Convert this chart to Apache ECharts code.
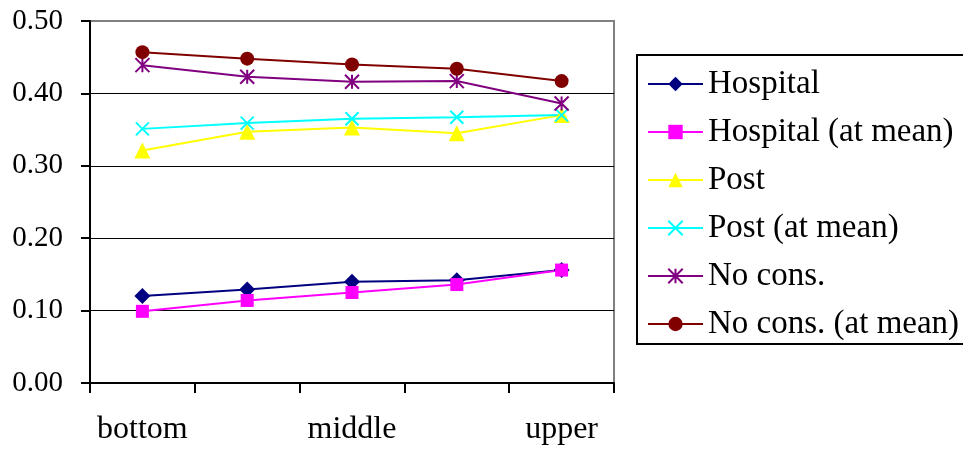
<!DOCTYPE html>
<html>
<head>
<meta charset="utf-8">
<script src="https://cdn.jsdelivr.net/npm/echarts@6/dist/echarts.min.js"></script>
<style>
html,body{margin:0;padding:0;background:#fff;}
#chart{width:963px;height:450px;}
</style>
</head>
<body>
<div id="chart"></div>
<script>
const categories = ['bottom', '', 'middle', '', 'upper'];
const yTicks = [0, 0.1, 0.2, 0.3, 0.4, 0.5];
const hospital = [0.120, 0.129, 0.140, 0.142, 0.156];
const hospitalMean = [0.099, 0.114, 0.125, 0.136, 0.156];
const post = [0.321, 0.347, 0.353, 0.345, 0.370];
const postMean = [0.351, 0.359, 0.365, 0.367, 0.370];
const noCons = [0.439, 0.423, 0.416, 0.417, 0.386];
const noConsMean = [0.457, 0.448, 0.440, 0.434, 0.417];

const FONT = '"Liberation Serif", "Times New Roman", serif';
const crossPath = 'path://M0,0L10,10M10,0L0,10';
const starPath = 'path://M0,0L10,10M10,0L0,10M5,0L5,10';

function filled(name, data, color, symbol, size) {
  return {
    name: name, type: 'line', data: data, symbol: symbol, symbolSize: size,
    lineStyle: { color: color, width: 2 },
    itemStyle: { color: color, borderColor: color, borderWidth: 0 },
    emphasis: { disabled: true }
  };
}
function stroked(name, data, color, symbol, size) {
  return {
    name: name, type: 'line', data: data, symbol: symbol, symbolSize: size,
    lineStyle: { color: color, width: 2 },
    itemStyle: { color: 'none', borderColor: color, borderWidth: 2 },
    emphasis: { disabled: true }
  };
}

const chart = echarts.init(document.getElementById('chart'), null, { renderer: 'canvas' });
chart.setOption({
  animation: false,
  backgroundColor: '#fff',
  grid: { left: 90, right: 349, top: 21, bottom: 67, show: true, borderColor: '#808080', borderWidth: 2, backgroundColor: 'transparent' },
  xAxis: {
    type: 'category', data: categories, boundaryGap: true,
    axisLine: { lineStyle: { color: '#000', width: 2 } },
    axisTick: { show: true, interval: 0, length: 10, lineStyle: { color: '#000', width: 2 } },
    axisLabel: { interval: 0, margin: 31, color: '#000', fontFamily: FONT, fontSize: 32 },
    splitLine: { show: false }
  },
  yAxis: {
    type: 'value', min: yTicks[0], max: yTicks[yTicks.length - 1], interval: 0.1,
    axisLine: { show: true, lineStyle: { color: '#000', width: 2 } },
    axisTick: { show: true, length: 9, lineStyle: { color: '#000', width: 2 } },
    axisLabel: { margin: 27, color: '#000', fontFamily: FONT, fontSize: 29, formatter: v => v.toFixed(2) },
    splitLine: { show: true, lineStyle: { color: ['#000', '#000', '#000', '#000', '#000', '#808080'], width: 1 } }
  },
  legend: {
    orient: 'vertical', left: 637, top: 55,
    padding: [12, 20, 3, 10],
    itemWidth: 55, itemHeight: 18, itemGap: 14,
    borderColor: '#000', borderWidth: 2,
    textStyle: { color: '#000', fontFamily: FONT, fontSize: 33, lineHeight: 34 },
    selectedMode: false
  },
  series: [
    filled('Hospital', hospital, '#000080', 'diamond', 16),
    filled('Hospital (at mean)', hospitalMean, '#FF00FF', 'rect', 13),
    filled('Post', post, '#FFFF00', 'triangle', 16),
    stroked('Post (at mean)', postMean, '#00FFFF', crossPath, 13),
    stroked('No cons.', noCons, '#800080', starPath, 14),
    filled('No cons. (at mean)', noConsMean, '#800000', 'circle', 14)
  ]
});
</script>
</body>
</html>
